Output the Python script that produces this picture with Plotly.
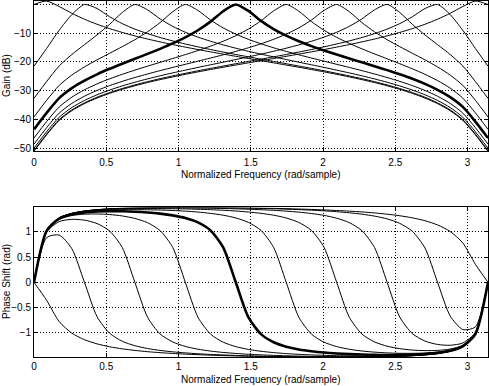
import plotly.graph_objects as go

# Normalized frequency samples (rad/sample)
freq = [0.0, 0.0873, 0.1745, 0.2618, 0.3491, 0.4363, 0.5236, 0.6109, 0.6981, 0.7854,
        0.8727, 0.9599, 1.0472, 1.1345, 1.2217, 1.3090, 1.3963, 1.4835, 1.5708, 1.6581,
        1.7453, 1.8326, 1.9199, 2.0071, 2.0944, 2.1817, 2.2689, 2.3562, 2.4435, 2.5307,
        2.6180, 2.7053, 2.7925, 2.8798, 2.9671, 3.0543, 3.1416]

# Gain (dB) of the ten resonators
gain_k0 = [0.0, 1.19, -0.71, -3.07, -5.13, -6.89, -8.41, -9.74, -10.94, -12.03, -13.03, -13.97, -14.85,
           -15.70, -16.51, -17.29, -18.06, -18.82, -19.58, -20.33, -21.10, -21.87, -22.66, -23.48, -24.33,
           -25.23, -26.18, -27.20, -28.32, -29.56, -30.96, -32.59, -34.54, -37.00, -40.35, -45.41, -51.15]
gain_k1 = [-21.48, -15.33, -8.98, -3.52, 0.0, -1.42, -4.28, -6.67, -8.58, -10.15, -11.50, -12.69, -13.77,
           -14.76, -15.69, -16.57, -17.42, -18.24, -19.04, -19.84, -20.64, -21.45, -22.26, -23.10, -23.98,
           -24.89, -25.85, -26.89, -28.02, -29.27, -30.68, -32.31, -34.27, -36.73, -40.08, -45.15, -50.89]
gain_k2 = [-32.69, -26.84, -21.41, -17.43, -13.98, -10.59, -6.90, -2.78, 0.0, -1.87, -5.03, -7.62, -9.68,
           -11.37, -12.81, -14.08, -15.23, -16.30, -17.30, -18.25, -19.18, -20.10, -21.01, -21.93, -22.87,
           -23.84, -24.85, -25.93, -27.09, -28.37, -29.80, -31.45, -33.43, -35.91, -39.26, -44.33, -50.07]
gain_k3 = [-39.18, -33.39, -28.18, -24.59, -21.75, -19.29, -16.99, -14.69, -12.26, -9.53, -6.30, -2.52, 0.0,
           -2.08, -5.41, -8.15, -10.33, -12.14, -13.70, -15.08, -16.35, -17.53, -18.66, -19.75, -20.84,
           -21.93, -23.04, -24.21, -25.44, -26.78, -28.26, -29.95, -31.96, -34.46, -37.83, -42.92, -48.66]
gain_k4 = [-43.51, -37.75, -32.61, -29.15, -26.51, -24.33, -22.41, -20.63, -18.92, -17.22, -15.45, -13.56,
           -11.45, -8.98, -5.96, -2.36, 0.0, -2.23, -5.69, -8.56, -10.87, -12.81, -14.51, -16.04, -17.46,
           -18.82, -20.16, -21.50, -22.87, -24.33, -25.90, -27.67, -29.74, -32.29, -35.69, -40.79, -46.54]
gain_k5 = [-46.54, -40.79, -35.69, -32.29, -29.74, -27.67, -25.90, -24.33, -22.87, -21.50, -20.16, -18.82,
           -17.46, -16.04, -14.51, -12.81, -10.87, -8.56, -5.69, -2.23, 0.0, -2.36, -5.96, -8.98, -11.45,
           -13.56, -15.45, -17.22, -18.92, -20.63, -22.41, -24.33, -26.51, -29.15, -32.61, -37.75, -43.51]
gain_k6 = [-48.66, -42.92, -37.83, -34.46, -31.96, -29.95, -28.26, -26.78, -25.44, -24.21, -23.04, -21.93,
           -20.84, -19.75, -18.66, -17.53, -16.35, -15.08, -13.70, -12.14, -10.33, -8.15, -5.41, -2.08, 0.0,
           -2.52, -6.30, -9.53, -12.26, -14.69, -16.99, -19.29, -21.75, -24.59, -28.18, -33.39, -39.18]
gain_k7 = [-50.07, -44.33, -39.26, -35.91, -33.43, -31.45, -29.80, -28.37, -27.09, -25.93, -24.85, -23.84,
           -22.87, -21.93, -21.01, -20.10, -19.18, -18.25, -17.30, -16.30, -15.23, -14.08, -12.81, -11.37,
           -9.68, -7.62, -5.03, -1.87, 0.0, -2.78, -6.90, -10.59, -13.98, -17.43, -21.41, -26.84, -32.69]
gain_k8 = [-50.89, -45.15, -40.08, -36.73, -34.27, -32.31, -30.68, -29.27, -28.02, -26.89, -25.85, -24.89,
           -23.98, -23.10, -22.26, -21.45, -20.64, -19.84, -19.04, -18.24, -17.42, -16.57, -15.69, -14.76,
           -13.77, -12.69, -11.50, -10.15, -8.58, -6.67, -4.28, -1.42, 0.0, -3.52, -8.98, -15.33, -21.48]
gain_k9 = [-51.15, -45.41, -40.35, -37.00, -34.54, -32.59, -30.96, -29.56, -28.32, -27.20, -26.18, -25.23,
           -24.33, -23.48, -22.66, -21.87, -21.10, -20.33, -19.58, -18.82, -18.06, -17.29, -16.51, -15.70,
           -14.85, -13.97, -13.03, -12.03, -10.94, -9.74, -8.41, -6.89, -5.13, -3.07, -0.71, 1.19, 0.0]

# Phase shift (rad) of the ten resonators
phase_k0 = [0, -0.356, -0.778, -1.004, -1.134, -1.217, -1.274, -1.315, -1.346, -1.371, -1.390, -1.406, -1.419,
            -1.430, -1.440, -1.448, -1.455, -1.461, -1.466, -1.470, -1.473, -1.476, -1.478, -1.479, -1.480,
            -1.479, -1.478, -1.475, -1.470, -1.463, -1.452, -1.435, -1.409, -1.363, -1.272, -1.025, 0]
phase_k1 = [0, 0.882, 0.933, 0.664, 0, -0.679, -1.008, -1.165, -1.253, -1.308, -1.346, -1.374, -1.395,
            -1.412, -1.425, -1.436, -1.445, -1.453, -1.459, -1.464, -1.469, -1.472, -1.475, -1.476, -1.477,
            -1.477, -1.476, -1.473, -1.469, -1.462, -1.451, -1.434, -1.408, -1.363, -1.271, -1.025, 0]
phase_k2 = [0, 0.990, 1.199, 1.244, 1.228, 1.161, 1.013, 0.686, 0, -0.688, -1.021, -1.179, -1.267,
            -1.322, -1.359, -1.386, -1.406, -1.422, -1.434, -1.444, -1.452, -1.458, -1.463, -1.466, -1.469,
            -1.470, -1.470, -1.468, -1.464, -1.458, -1.448, -1.432, -1.406, -1.361, -1.270, -1.024, 0]
phase_k3 = [0, 1.011, 1.243, 1.319, 1.346, 1.350, 1.339, 1.311, 1.262, 1.178, 1.022, 0.689, 0,
            -0.690, -1.024, -1.183, -1.271, -1.326, -1.363, -1.389, -1.409, -1.423, -1.435, -1.443, -1.450,
            -1.454, -1.456, -1.457, -1.455, -1.450, -1.441, -1.427, -1.402, -1.358, -1.268, -1.023, 0]
phase_k4 = [0, 1.018, 1.258, 1.343, 1.380, 1.398, 1.404, 1.403, 1.395, 1.380, 1.357, 1.323, 1.270,
            1.183, 1.024, 0.690, 0, -0.690, -1.025, -1.184, -1.272, -1.326, -1.362, -1.388, -1.406,
            -1.419, -1.428, -1.434, -1.436, -1.435, -1.429, -1.417, -1.395, -1.353, -1.265, -1.022, 0]
phase_k5 = [0, 1.022, 1.265, 1.353, 1.395, 1.417, 1.429, 1.435, 1.436, 1.434, 1.428, 1.419, 1.406,
            1.388, 1.362, 1.326, 1.272, 1.184, 1.025, 0.690, 0, -0.690, -1.024, -1.183, -1.270,
            -1.323, -1.357, -1.380, -1.395, -1.403, -1.404, -1.398, -1.380, -1.343, -1.258, -1.018, 0]
phase_k6 = [0, 1.023, 1.268, 1.358, 1.402, 1.427, 1.441, 1.450, 1.455, 1.457, 1.456, 1.454, 1.450,
            1.443, 1.435, 1.423, 1.409, 1.389, 1.363, 1.326, 1.271, 1.183, 1.024, 0.690, 0,
            -0.689, -1.022, -1.178, -1.262, -1.311, -1.339, -1.350, -1.346, -1.319, -1.243, -1.011, 0]
phase_k7 = [0, 1.024, 1.270, 1.361, 1.406, 1.432, 1.448, 1.458, 1.464, 1.468, 1.470, 1.470, 1.469,
            1.466, 1.463, 1.458, 1.452, 1.444, 1.434, 1.422, 1.406, 1.386, 1.359, 1.322, 1.267,
            1.179, 1.021, 0.688, 0, -0.686, -1.013, -1.161, -1.228, -1.244, -1.199, -0.990, 0]
phase_k8 = [0, 1.025, 1.271, 1.363, 1.408, 1.434, 1.451, 1.462, 1.469, 1.473, 1.476, 1.477, 1.477,
            1.476, 1.475, 1.472, 1.469, 1.464, 1.459, 1.453, 1.445, 1.436, 1.425, 1.412, 1.395,
            1.374, 1.346, 1.308, 1.253, 1.165, 1.008, 0.679, 0, -0.664, -0.933, -0.882, 0]
phase_k9 = [0, 1.025, 1.272, 1.363, 1.409, 1.435, 1.452, 1.463, 1.470, 1.475, 1.478, 1.479, 1.480,
            1.479, 1.478, 1.476, 1.473, 1.470, 1.466, 1.461, 1.455, 1.448, 1.440, 1.430, 1.419,
            1.406, 1.390, 1.371, 1.346, 1.315, 1.274, 1.217, 1.134, 1.004, 0.778, 0.356, 0]

gains = [gain_k0, gain_k1, gain_k2, gain_k3, gain_k4, gain_k5, gain_k6, gain_k7, gain_k8, gain_k9]
phases = [phase_k0, phase_k1, phase_k2, phase_k3, phase_k4, phase_k5, phase_k6, phase_k7, phase_k8, phase_k9]
bold_index = 4

x_ticks = [0, 0.5, 1, 1.5, 2, 2.5, 3]
gain_ticks = [-50, -40, -30, -20, -10, 0]
phase_ticks = [-1, -0.5, 0, 0.5, 1]

W, H = 489, 386
FONT = "Liberation Sans, Arial, Helvetica, sans-serif"

fig = go.Figure()
order = [k for k in range(10) if k != bold_index] + [bold_index]
for k in order:
    lw = 2.6 if k == bold_index else 1.0
    fig.add_trace(go.Scatter(x=freq, y=gains[k], mode="lines", xaxis="x", yaxis="y",
                             line=dict(color="black", width=lw, shape="spline", smoothing=0.7),
                             showlegend=False, hoverinfo="skip"))
    fig.add_trace(go.Scatter(x=freq, y=phases[k], mode="lines", xaxis="x2", yaxis="y2",
                             line=dict(color="black", width=lw, shape="spline", smoothing=0.7),
                             showlegend=False, hoverinfo="skip"))


def py(px):
    return (H - px) / H


common = dict(showline=True, linecolor="black", linewidth=1, mirror="ticks",
              ticks="inside", ticklen=4, tickcolor="black", tickwidth=1,
              showgrid=True, gridcolor="black", gridwidth=1, griddash="1px,2px",
              zeroline=False, automargin=False,
              tickfont=dict(family=FONT, size=10, color="black"))

fig.update_layout(
    template="none",
    width=W, height=H,
    margin=dict(l=34, r=1, t=0, b=0, autoexpand=False),
    font=dict(family=FONT, size=10, color="black"),
    plot_bgcolor="white", paper_bgcolor="white",
    showlegend=False,
    xaxis=dict(domain=[0, 1], anchor="y", range=[0, 3.1416], tickvals=x_ticks,
               ticklabelstandoff=2, **common),
    yaxis=dict(domain=[py(151.3), py(0.9)], anchor="x", range=[-51.15, 1.25],
               tickvals=gain_ticks, **common),
    xaxis2=dict(domain=[0, 1], anchor="y2", range=[0, 3.1416], tickvals=x_ticks,
                ticklabelstandoff=0, **common),
    yaxis2=dict(domain=[py(357.2), py(207.4)], anchor="x2", range=[-1.48, 1.48],
                tickvals=phase_ticks, **common),
)

ann_font = dict(family=FONT, size=10, color="black")
xt = "Normalized Frequency (rad/sample)"
fig.add_annotation(text=xt, xref="paper", yref="paper", x=0.5, y=py(174), showarrow=False,
                   font=ann_font, xanchor="center", yanchor="middle")
fig.add_annotation(text=xt, xref="paper", yref="paper", x=0.5, y=py(379), showarrow=False,
                   font=ann_font, xanchor="center", yanchor="middle")
fig.add_annotation(text="Gain (dB)", xref="paper", yref="paper", x=(6 - 34) / 454, y=py(76),
                   showarrow=False, font=ann_font, textangle=-90, xanchor="center", yanchor="middle")
fig.add_annotation(text="Phase Shift (rad)", xref="paper", yref="paper", x=(6 - 34) / 454, y=py(282),
                   showarrow=False, font=ann_font, textangle=-90, xanchor="center", yanchor="middle")

fig.write_html(
    "out.html",
    config={"displayModeBar": False},
    post_script="document.body.style.margin='0px';document.body.style.padding='0px';"
                "document.body.style.overflow='hidden';",
)
